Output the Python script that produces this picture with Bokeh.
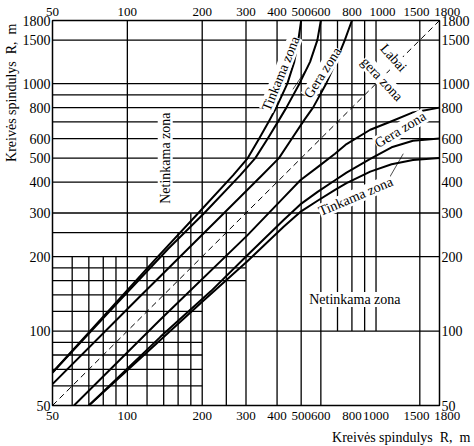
import numpy as np
from bokeh.plotting import figure
from bokeh.models import LogAxis, FixedTicker, Label, Range1d, Title
from bokeh.embed import file_html
from bokeh.resources import INLINE

# ---------------- data ----------------
ticks = [50, 100, 200, 300, 400, 500, 600, 800, 1000, 1500, 1800]

# grid segments: horizontal (y, x0, x1), vertical (x, y0, y1)
h_y  = [1500, 1000, 900, 800, 700, 600, 500, 400, 300, 250, 200, 180, 160, 140, 120, 100, 90, 80, 70, 60]
h_x0 = [50] * 20
h_x1 = [1800, 1800, 900, 1800, 1800, 1800, 1800, 900, 1800, 300, 1800, 300, 300, 200, 200, 1800, 200, 200, 200, 200]

v_x  = [60, 70, 80, 90, 100, 120, 140, 160, 180, 200, 250, 300, 400, 500, 600, 700, 800, 900, 1000, 1500]
v_y0 = [50, 50, 50, 50, 50, 50, 50, 50, 50, 50, 50, 50, 50, 50, 50, 100, 100, 100, 100, 50]
v_y1 = [200, 200, 200, 200, 1800, 200, 200, 250, 300, 1800, 300, 1800, 1800, 1800, 1800, 1800, 1800, 1800, 1800, 1800]

# upper family of zone boundaries (x, y)
u1_x = [50, 129, 193, 266, 305, 339, 373, 397, 440, 469, 487, 500]
u1_y = [68, 194, 300, 426, 500, 600, 712, 800, 1000, 1225, 1500, 1800]
u2_x = [50, 94.5, 146, 204, 284, 327, 367, 407, 436, 492, 543, 581, 600]
u2_y = [68, 135, 215, 300, 426, 500, 600, 712, 800, 1000, 1225, 1500, 1800]
u3_x = [50, 110, 245, 348, 407, 459, 514, 558, 630, 690, 749, 800]
u3_y = [61, 135, 300, 426, 500, 600, 712, 800, 1000, 1225, 1500, 1800]

# lower family of zone boundaries (x, y)
l1_x = [70, 196, 303, 425, 496, 584, 684, 761, 948, 1155, 1408, 1800]
l1_y = [50, 129, 191, 264, 303, 337, 372, 396, 441, 472, 491, 500]
l2_x = [70, 135.5, 217, 303, 425, 496, 584, 684, 761, 948, 1155, 1408, 1800]
l2_y = [50, 94.5, 145, 202, 281, 325, 366, 407, 437, 496, 553, 588, 600]
l3_x = [61, 135.5, 303, 425, 496, 584, 684, 761, 948, 1155, 1408, 1800]
l3_y = [50, 111, 243, 346, 407, 461, 521, 570, 651, 705, 765, 800]

diag = [50, 1800]

# pointer lines from zone labels
lead_up_x = [463, 533]
lead_up_y = [948, 1170]
lead_lo_x = [1134, 1287]
lead_lo_y = [418, 521]

SERIF = "Liberation Serif"
AXIS_TITLE = "Kreivės spindulys\u00a0\u00a0R,\u00a0\u00a0m"

p = figure(width=474, height=446, x_axis_type="log", y_axis_type="log",
           x_range=Range1d(50, 1800), y_range=Range1d(50, 1800),
           output_backend="svg", toolbar_location=None,
           min_border_left=50, min_border_right=35, min_border_top=16, min_border_bottom=41,
           x_axis_location=None, y_axis_location=None)
p.xgrid.visible = False
p.ygrid.visible = False
p.outline_line_color = "black"
p.outline_line_width = 1.5
p.background_fill_color = "white"
p.border_fill_color = "white"

def style_axis(ax, size, overrides):
    ax.ticker = FixedTicker(ticks=ticks)
    ax.major_label_overrides = overrides
    ax.major_tick_in = 0
    ax.major_tick_out = 0
    ax.minor_tick_in = 0
    ax.minor_tick_out = 0
    ax.axis_line_color = None
    ax.major_label_text_font = SERIF
    ax.major_label_text_font_size = size
    ax.major_label_text_color = "black"
    ax.major_label_standoff = 2

bottom_labels = {t: str(t) for t in ticks}
bottom_labels[1500] = "1500\u2002"
bottom_labels[1800] = "\u2003\u20091800"
top_labels = dict(bottom_labels)
top_labels[1000] = "\u20031000"
v_labels = {t: str(t) for t in ticks}

ax = LogAxis()
style_axis(ax, "13px", bottom_labels)
p.add_layout(ax, "below")
ax = LogAxis()
style_axis(ax, "13px", top_labels)
p.add_layout(ax, "above")
for loc in ["left", "right"]:
    ax = LogAxis()
    style_axis(ax, "14px", v_labels)
    p.add_layout(ax, loc)

p.add_layout(Title(text=AXIS_TITLE, align="right", offset=-31, standoff=4,
                   text_font=SERIF, text_font_size="14px", text_font_style="normal",
                   text_color="black"), "below")
p.add_layout(Title(text=AXIS_TITLE, align="right", offset=3, standoff=2,
                   text_font=SERIF, text_font_size="14px", text_font_style="normal",
                   text_color="black"), "left")

p.segment(x0=h_x0, y0=h_y, x1=h_x1, y1=h_y, line_color="black", line_width=1.3)
p.segment(x0=v_x, y0=v_y0, x1=v_x, y1=v_y1, line_color="black", line_width=1.3)

p.line(diag, diag, line_color="black", line_width=1, line_dash="6 4")
for xs, ys in [(u1_x, u1_y), (u2_x, u2_y), (u3_x, u3_y), (l1_x, l1_y), (l2_x, l2_y), (l3_x, l3_y)]:
    p.line(xs, ys, line_color="black", line_width=2, line_join="round")

def lab(text, x, y, angle_deg=0.0, size="14px"):
    l = Label(x=x, y=y, text=text, angle=np.radians(angle_deg), text_font=SERIF,
              text_font_size=size, text_align="center", text_baseline="middle",
              text_color="black", background_fill_color="white")
    p.add_layout(l)

lab("Netinkama zona", 142, 500, 90)
lab("Tinkama zona", 414, 1097, 68)
lab("Gera zona", 610, 1107, 57.5)
lab("Labai", 1176, 1271, -48)
lab("gera zona", 1056, 1042, -47)
lab("Gera zona", 1253, 651, 31)
lab("Tinkama zona", 829, 350, 23)
lab("Netinkama zona", 822, 134, 0)

p.line(lead_up_x, lead_up_y, line_color="black", line_width=0.7)
p.line(lead_lo_x, lead_lo_y, line_color="black", line_width=0.7)

open("out.html", "w").write(file_html(p, INLINE))
